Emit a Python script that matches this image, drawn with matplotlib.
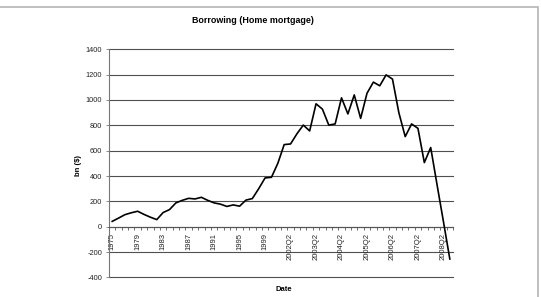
import matplotlib
matplotlib.use("Agg")
import matplotlib.pyplot as plt
from matplotlib.patches import Rectangle

# Categories: annual 1975-2001, then quarterly 2002Q1-2008Q3
years = [str(y) for y in range(1975, 2002)]
quarters = [f"{y}Q{q}" for y in range(2002, 2009) for q in range(1, 5)][:27]
categories = years + quarters

borrowing = [42, 68, 95, 110, 122, 97, 75, 56, 112, 135,
             188, 208, 224, 219, 232, 208, 188, 178, 160, 172,
             162, 210, 222, 300, 385, 390, 500, 648, 653, 733,
             802, 756, 970, 928, 802, 811, 1017, 890, 1040, 855,
             1053, 1141, 1112, 1198, 1165, 900, 711, 811, 776, 506,
             625, 330, 40, -255]

title = "Borrowing (Home mortgage)"
ylabel = "bn ($)"
xlabel = "Date"
yticks = list(range(-400, 1401, 200))

plt.rcParams['font.family'] = ['Liberation Sans', 'DejaVu Sans']

W, H = 541, 297
fig = plt.figure(figsize=(W / 100, H / 100), dpi=100)
fig.patch.set_facecolor('white')

left, right = 109 / W, 453 / W
top, bottom = 1 - 49.3 / H, 1 - 277.4 / H
ax = fig.add_axes([left, bottom, right - left, top - bottom])

x = list(range(len(categories)))
ax.plot(x, borrowing, color='black', linewidth=1.2, zorder=3, clip_on=False)

ax.set_xlim(-0.5, len(categories) - 0.5)
ax.set_ylim(-400, 1400)
ax.set_yticks(yticks)
ax.set_yticklabels([str(v) for v in yticks])

for v in yticks:
    ax.axhline(v, color='#505050', linewidth=0.8, zorder=1, clip_on=False)

# category axis at y=0
ax.spines['bottom'].set_position(('data', 0))
ax.spines['bottom'].set_color('#555555')
ax.spines['bottom'].set_linewidth(0.8)
ax.spines['top'].set_visible(False)
ax.spines['right'].set_visible(False)
ax.spines['left'].set_color('#777777')
ax.spines['left'].set_linewidth(0.8)

lab_idx = list(range(0, len(categories), 4))
ax.set_xticks(lab_idx)
ax.set_xticklabels([categories[i] for i in lab_idx], rotation=90,
                   fontsize=5.5, color='#222222')
ax.set_xticks([i - 0.5 for i in range(len(categories) + 1)], minor=True)
ax.tick_params(axis='x', which='major', length=0, pad=4.5)
ax.tick_params(axis='x', which='minor', length=2.2, width=0.6,
               color='#555555', direction='out')
ax.tick_params(axis='y', length=2, width=0.6, color='#777777',
               labelsize=5.3, labelcolor='#222222', pad=3)

fig.text(253 / W, 1 - 20.7 / H, title, ha='center', va='center',
         fontsize=6.4, fontweight='bold')
fig.text(78.8 / W, 1 - 165 / H, ylabel, ha='center', va='center',
         rotation=90, fontsize=5.5, fontweight='bold')
fig.text(284 / W, 1 - 289.5 / H, xlabel, ha='center', va='center',
         fontsize=5.5, fontweight='bold')

# outer chart border
fig.patches.append(Rectangle((-0.05, -0.05), 538 / W + 0.05, 1 - 6.5 / H + 0.05,
                             transform=fig.transFigure, fill=False,
                             edgecolor='#b5b5b5', linewidth=1.2))

fig.savefig("out.png", dpi=100)
